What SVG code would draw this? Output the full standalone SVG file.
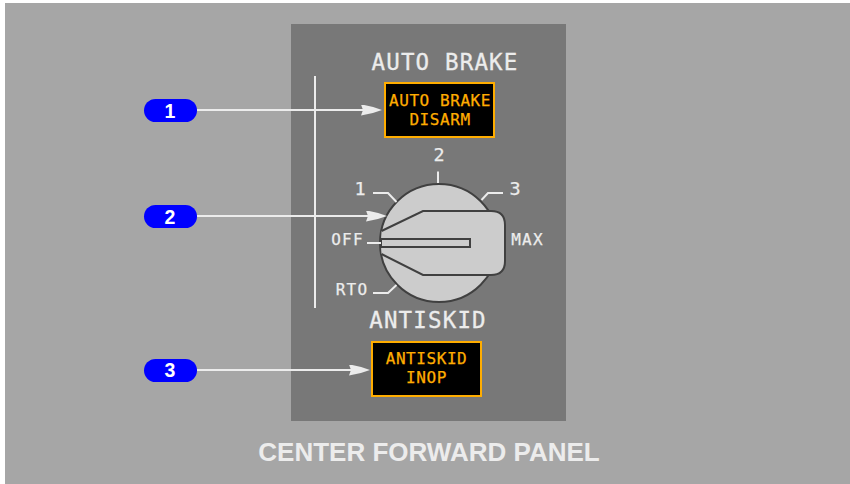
<svg xmlns="http://www.w3.org/2000/svg" width="850" height="484" viewBox="0 0 850 484">
<style>
.mono{font-family:"DejaVu Sans Mono","Liberation Mono",monospace;}
.title{font-size:22.5px;letter-spacing:1.15px;fill:#ececec;stroke:#ececec;stroke-width:.3px;text-anchor:middle;}
.sw{font-size:16px;letter-spacing:.57px;fill:#ffad00;stroke:#ffad00;stroke-width:.25px;text-anchor:middle;}
.pos{font-size:16px;letter-spacing:1.2px;fill:#ececec;stroke:#ececec;stroke-width:.25px;text-anchor:middle;}
.dig{font-size:18.5px;fill:#ececec;stroke:#ececec;stroke-width:.25px;text-anchor:middle;}
.box{fill:#000;stroke:#ffad00;stroke-width:2;}
.tick{fill:none;stroke:#ececec;stroke-width:2;}
.lead{fill:none;stroke:#ececec;stroke-width:2;}
.pill{fill:#0000ff;}
.num{font-family:"Liberation Sans",Arial,sans-serif;font-weight:bold;font-size:19.5px;fill:#fff;text-anchor:middle;}
</style>
<defs>
<marker id="ah" markerUnits="userSpaceOnUse" markerWidth="22" markerHeight="12" refX="3" refY="5.5" orient="auto"><path d="M0 0Q11 1.500 21 5.500Q11 9.500 0 11L2 5.500Z" fill="#ececec"/></marker>
</defs>
<rect width="850" height="484" fill="#fff"/>
<rect x="5" y="3" width="845" height="481" fill="#a6a6a6"/>
<rect id="panel" x="291" y="24" width="275" height="397" fill="#787878"/>
<g id="auto-brake-label"><text class="mono title" x="445" y="70">AUTO BRAKE</text></g>
<g id="auto-brake-switch">
<rect class="box" x="385" y="83" width="109" height="54"/>
<text class="mono sw" x="440" y="106">AUTO BRAKE</text>
<text class="mono sw" x="440" y="125">DISARM</text>
</g>
<g id="selector">
<circle cx="439" cy="243" r="59" fill="#cccccc" stroke="#404040" stroke-width="2"/>
<path d="M381.500 231L423 211H491Q505 211 505 225V261Q505 275 491 275H423L381.500 254" fill="#cccccc" stroke="#404040" stroke-width="2"/>
<rect x="381" y="239" width="89" height="8" fill="#cccccc" stroke="#404040" stroke-width="2"/>
<path class="tick" d="M438 183V171.500"/>
<path class="tick" d="M373 193H388L396.500 202"/>
<path class="tick" d="M503 193H488L481.500 200"/>
<path class="tick" d="M367 243H381"/>
<path class="tick" d="M373 293H388L396.500 285"/>
<text class="mono dig" x="439" y="161">2</text>
<text class="mono dig" x="360" y="195">1</text>
<text class="mono dig" x="515" y="195">3</text>
<text class="mono pos" x="347.500" y="245">OFF</text>
<text class="mono pos" x="527.500" y="245">MAX</text>
<text class="mono pos" x="352" y="295">RTO</text>
</g>
<g id="antiskid-label"><text class="mono title" x="428" y="328">ANTISKID</text></g>
<g id="antiskid-switch">
<rect class="box" x="372" y="342" width="109" height="54"/>
<text class="mono sw" x="426.500" y="364">ANTISKID</text>
<text class="mono sw" x="426.500" y="383">INOP</text>
</g>
<g id="connectors">
<path class="lead" d="M315 76V308"/>
<path class="lead" d="M197 110H364" marker-end="url(#ah)"/>
<path class="lead" d="M197 216H369" marker-end="url(#ah)"/>
<path class="lead" d="M197 370H352" marker-end="url(#ah)"/>
</g>
<g id="callout-1"><rect class="pill" x="144" y="99" width="53" height="23" rx="11.5"/><text class="num" x="170" y="118">1</text></g>
<g id="callout-2"><rect class="pill" x="144" y="205" width="53" height="23" rx="11.5"/><text class="num" x="170" y="224">2</text></g>
<g id="callout-3"><rect class="pill" x="144" y="359" width="53" height="23" rx="11.5"/><text class="num" x="170" y="377">3</text></g>
<g id="caption"><text x="429" y="461" font-family="'Liberation Sans',Arial,sans-serif" font-weight="bold" font-size="26px" fill="#ececec" text-anchor="middle">CENTER FORWARD PANEL</text></g>
</svg>
